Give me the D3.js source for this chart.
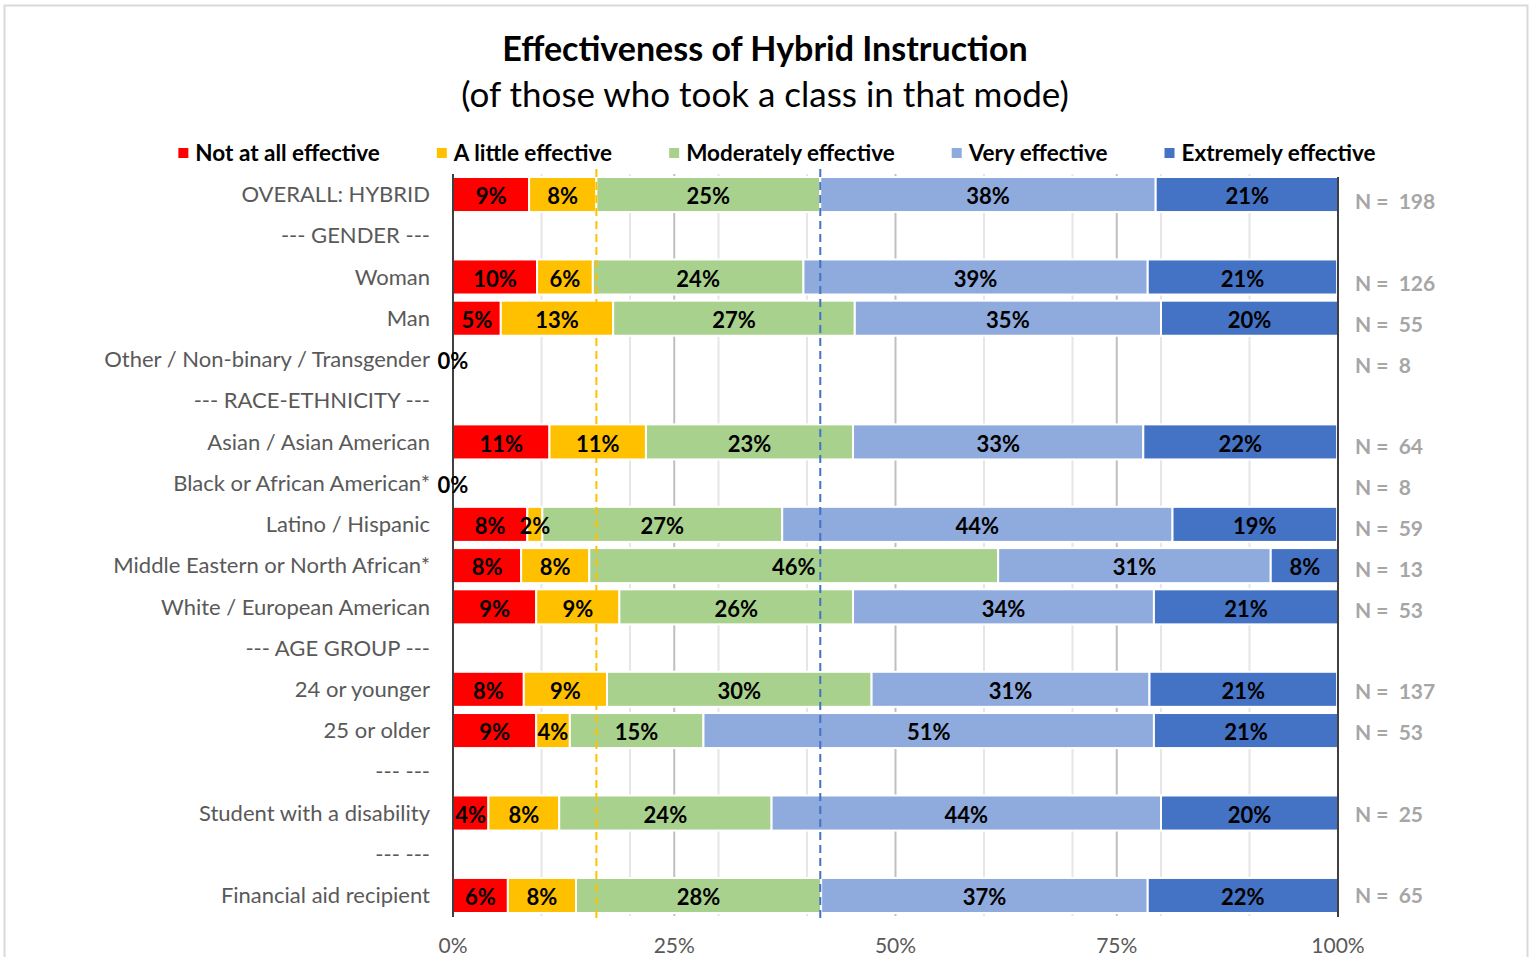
<!DOCTYPE html>
<html>
<head>
<meta charset="utf-8">
<script src="https://cdn.jsdelivr.net/npm/d3@7"></script>
<style>
  body { margin: 0; background: #fff; }
  svg text { font-family: Lato, "Open Sans", sans-serif; }
</style>
</head>
<body>
<div id="graf"></div>
<script>
// Datos (porcentajes por fila, null = fila de encabezado)
var categories = [
  "OVERALL: HYBRID", "--- GENDER ---", "Woman", "Man", "Other / Non-binary / Transgender",
  "--- RACE-ETHNICITY ---", "Asian / Asian American", "Black or African American*",
  "Latino / Hispanic", "Middle Eastern or North African*", "White / European American",
  "--- AGE GROUP ---", "24 or younger", "25 or older", "---  ---",
  "Student with a disability", "---  ---", "Financial aid recipient"
];
var notAtAll   = [8.6, null, 9.5, 5.4, 0, null, 10.9, 0, 8.4, 7.7, 9.4, null, 8.0, 9.4, null, 4.0, null, 6.2];
var aLittle    = [7.6, null, 6.3, 12.7, 0, null, 10.9, 0, 1.7, 7.7, 9.4, null, 9.4, 3.8, null, 8.0, null, 7.7];
var moderately = [25.3, null, 23.8, 27.3, 0, null, 23.4, 0, 27.1, 46.2, 26.4, null, 29.9, 15.1, null, 24.0, null, 27.7];
var very       = [37.9, null, 38.9, 34.6, 0, null, 32.8, 0, 44.1, 30.8, 34.0, null, 31.4, 50.9, null, 44.0, null, 36.9];
var extremely  = [20.7, null, 21.4, 20.0, 0, null, 21.9, 0, 18.6, 7.7, 20.8, null, 21.2, 20.8, null, 20.0, null, 21.5];
var nValues    = [198, null, 126, 55, 8, null, 64, 8, 59, 13, 53, null, 137, 53, null, 25, null, 65];
var seriesNames = ["Not at all effective", "A little effective", "Moderately effective", "Very effective", "Extremely effective"];
var seriesColors = ["#ff0000", "#ffc000", "#a9d18e", "#8faadc", "#4472c4"];
var xTicks = [0, 25, 50, 75, 100];
var minorTicks = [10, 20, 30, 40, 60, 70, 80, 90];

var series = [notAtAll, aLittle, moderately, very, extremely];

var ancho_total = 1535, alto_total = 957;

var svg = d3.select("#graf").append("svg")
  .attr("width", ancho_total)
  .attr("height", alto_total);

// borde del área del gráfico
svg.append("rect")
  .attr("x", 4.5).attr("y", 5.5)
  .attr("width", 1523).attr("height", 960)
  .attr("fill", "none")
  .attr("stroke", "#d9d9d9")
  .attr("stroke-width", 2);

// Escaladores
var x = d3.scaleLinear().domain([0, 100]).range([453, 1338]);
var y = d3.scaleBand()
  .domain(d3.range(categories.length))
  .range([173.9, 916.1])
  .paddingInner(0.15)
  .paddingOuter(0.075);
var yN = d3.scalePoint()
  .domain(d3.range(categories.length))
  .range([202, 896]);

// Títulos
svg.append("text")
  .attr("x", 765).attr("y", 61)
  .attr("text-anchor", "middle")
  .style("font-size", "34px").style("font-weight", "bold")
  .text("Effectiveness of Hybrid Instruction");
svg.append("text")
  .attr("x", 765).attr("y", 107)
  .attr("text-anchor", "middle")
  .style("font-size", "35px")
  .text("(of those who took a class in that mode)");

// Leyenda
var legend = svg.append("g").attr("transform", "translate(0,153)");
var items = legend.selectAll("g").data(seriesNames).join("g");
items.append("rect")
  .attr("y", -5).attr("width", 10).attr("height", 10)
  .attr("fill", (d, i) => seriesColors[i]);
items.append("text")
  .attr("x", 17).attr("dy", "0.35em")
  .style("font-size", "22.5px").style("font-weight", "bold")
  .text(d => d);
var pos = 0, starts = [];
items.each(function () {
  starts.push(pos);
  pos += 17 + this.querySelector("text").getComputedTextLength() + 57;
});
var legendWidth = pos - 57;
items.attr("transform", (d, i) => `translate(${777 - legendWidth / 2 + starts[i]},0)`);

// Líneas de la cuadrícula
var grid = svg.append("g");
grid.selectAll("line.minor").data(minorTicks).join("line")
  .attr("class", "minor")
  .attr("x1", d => x(d)).attr("x2", d => x(d))
  .attr("y1", 174).attr("y2", 916)
  .attr("stroke", "#e6e6e6").attr("stroke-width", 2);
grid.selectAll("line.major").data(xTicks.slice(1, -1)).join("line")
  .attr("class", "major")
  .attr("x1", d => x(d)).attr("x2", d => x(d))
  .attr("y1", 174).attr("y2", 916)
  .attr("stroke", "#bfbfbf").attr("stroke-width", 2);

// Barras apiladas
var rows = categories.map((c, i) => {
  var acc = 0;
  return series.map((s, k) => {
    var v = s[i];
    var seg = { row: i, k: k, v: v, x0: acc, x1: acc + (v || 0) };
    acc += v || 0;
    return seg;
  });
});
var segs = rows.flat().filter(d => d.v);

svg.append("g").selectAll("rect").data(segs).join("rect")
  .attr("x", d => x(d.x0))
  .attr("y", d => y(d.row))
  .attr("width", d => x(d.x1) - x(d.x0))
  .attr("height", y.bandwidth())
  .attr("fill", d => seriesColors[d.k])
  .attr("stroke", "#fff")
  .attr("stroke-width", 2);

// Ejes verticales
svg.append("line")
  .attr("x1", x(0)).attr("x2", x(0)).attr("y1", 174).attr("y2", 917)
  .attr("stroke", "#404040").attr("stroke-width", 2);
svg.append("line")
  .attr("x1", x(100)).attr("x2", x(100)).attr("y1", 177).attr("y2", 917)
  .attr("stroke", "#404040").attr("stroke-width", 2);

// Líneas de referencia (acumulado del total)
var refLines = [
  { v: notAtAll[0] + aLittle[0], color: "#ffc000" },
  { v: notAtAll[0] + aLittle[0] + moderately[0], color: "#4472c4" }
];
svg.append("g").selectAll("line").data(refLines).join("line")
  .attr("x1", d => x(d.v)).attr("x2", d => x(d.v))
  .attr("y1", 169).attr("y2", 923)
  .attr("stroke", d => d.color)
  .attr("stroke-width", 2)
  .attr("stroke-dasharray", "8,5");

// Etiquetas de datos
var labels = segs.map(d => ({ x: (d.x0 + d.x1) / 2, row: d.row, t: Math.round(d.v) + "%" }));
categories.forEach((c, i) => {
  if (notAtAll[i] === 0) labels.push({ x: 0, row: i, t: "0%" });
});
svg.append("g").selectAll("text").data(labels).join("text")
  .attr("x", d => x(d.x))
  .attr("y", d => y(d.row) + y.bandwidth() / 2 + 2)
  .attr("dy", "0.35em")
  .attr("text-anchor", "middle")
  .style("font-size", "22px").style("font-weight", "bold")
  .attr("fill", "#000")
  .text(d => d.t);

// Etiquetas de categorías
svg.append("g").selectAll("text").data(categories).join("text")
  .attr("x", 430)
  .attr("y", (d, i) => y(i) + y.bandwidth() / 2)
  .attr("dy", "0.35em")
  .attr("text-anchor", "end")
  .style("font-size", "22px")
  .attr("fill", "#595959")
  .text(d => d);

// N
svg.append("g").selectAll("text")
  .data(nValues.map((n, i) => ({ n: n, i: i })).filter(d => d.n != null))
  .join("text")
  .attr("x", 1355)
  .attr("y", d => yN(d.i))
  .attr("dy", "0.35em")
  .style("font-size", "21px").style("font-weight", "bold")
  .style("white-space", "pre")
  .attr("fill", "#a6a6a6")
  .text(d => "N =  " + d.n);

// Eje X
svg.append("g").selectAll("text").data(xTicks).join("text")
  .attr("x", d => x(d))
  .attr("y", 946)
  .attr("dy", "0.35em")
  .attr("text-anchor", "middle")
  .style("font-size", "21px")
  .attr("fill", "#595959")
  .text(d => d + "%");
</script>
</body>
</html>
